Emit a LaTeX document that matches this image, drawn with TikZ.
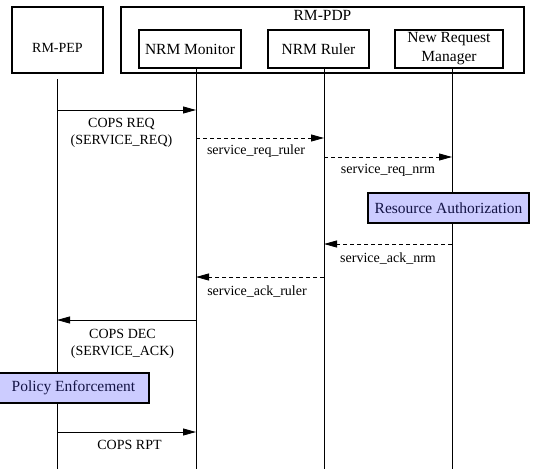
\documentclass[tikz,border=0pt]{standalone}
\usepackage{fontspec}
\setmainfont{Liberation Serif}
\usetikzlibrary{arrows.meta,positioning}
\definecolor{actfill}{RGB}{204,204,255}
\definecolor{actink}{RGB}{20,20,70}

\begin{document}
\begin{tikzpicture}[x=1pt,y=-1pt,
  every node/.style={font=\fontsize{14}{17}\selectfont,inner sep=0pt,align=center},
  entity/.style={draw,line width=1.7pt,minimum height=38pt,font=\fontsize{15.5}{19}\selectfont},
  lifeline/.style={line width=0.8pt},
  msg/.style={line width=0.8pt,-{Triangle[length=13pt,width=7pt]}},
  reply/.style={msg,dash pattern=on 4pt off 3pt},
  action/.style={draw,line width=1.7pt,fill=actfill,text=actink,minimum height=30pt,inner xsep=5pt,font=\fontsize{15.5}{17}\selectfont}]
  \useasboundingbox (0,0) rectangle (536,469);
  % participants
  \node[entity,minimum width=91pt,minimum height=66pt,label={[yshift=-8pt]center:RM-PEP}] (pep) at (57.5,40) {};
  \node[entity,minimum width=403pt,minimum height=66pt,label={[below=4pt,font=\fontsize{15.5}{17}\selectfont]north:RM-PDP}] (pdp) at (322.5,40) {};
  \node[entity,minimum width=102pt] (mon) at (190,49) {NRM Monitor};
  \node[entity,minimum width=101pt] (rul) at (318.5,49) {NRM Ruler};
  \node[entity,minimum width=108pt] (nrm) at (449,49) {New Request\\Manager};
  % lifelines
  \coordinate (pepL) at (57,79); \coordinate (monL) at (196,68);
  \coordinate (rulL) at (324,68); \coordinate (nrmL) at (452,68);
  \foreach \p in {pepL,monL,rulL,nrmL} {\coordinate (\p end) at (\p |- 0,469); \draw[lifeline] (\p) -- (\p end);}
  % messages
  \foreach \a/\b/\y/\s in {pepL/monL/110/msg,monL/rulL/138/reply,rulL/nrmL/157/reply,nrmL/rulL/244/reply,
      rulL/monL/277/reply,monL/pepL/320/msg,pepL/monL/432/msg}
    \draw[\s] (\a |- 0,\y) -- (\b |- 0,\y);
  \node (reqLbl) at (121.5,133) {COPS REQ\\(SERVICE\_REQ)};
  \node (reqRulLbl) at (256,151) {service\_req\_ruler};
  \node (reqNrmLbl) at (388,170) {service\_req\_nrm};
  \node[action,minimum width=161pt] (auth) at (448.5,208) {Resource Authorization};
  \node (ackNrmLbl) at (388,259) {service\_ack\_nrm};
  \node (ackRulLbl) at (257,292) {service\_ack\_ruler};
  \node (decLbl) at (122.5,343.5) {COPS DEC\\(SERVICE\_ACK)};
  \node[action,minimum width=151pt] (enf) at (73.5,388) {Policy Enforcement};
  \node (rptLbl) at (129.5,445) {COPS RPT};
\end{tikzpicture}
\end{document}
